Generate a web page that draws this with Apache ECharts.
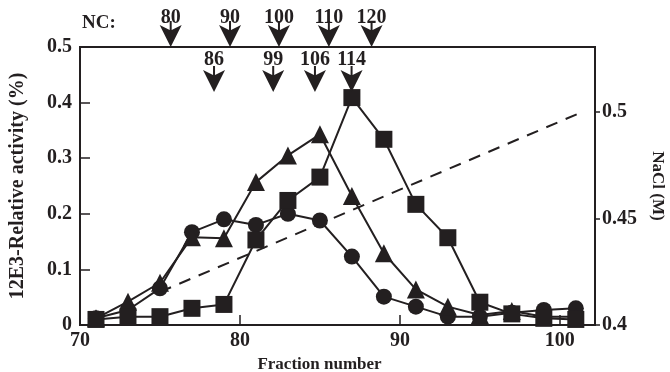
<!DOCTYPE html>
<html>
<head>
<meta charset="utf-8">
<script src="https://cdn.jsdelivr.net/npm/echarts@6/dist/echarts.min.js"></script>
<style>
html,body{margin:0;padding:0;background:#fff;}
#chart{width:670px;height:372px;}
</style>
</head>
<body>
<div id="chart"></div>
<script>
// ---- data ----
var fractions = [71, 73, 75, 77, 79, 81, 83, 85, 87, 89, 91, 93, 95, 97, 99, 101];
var circleVals = [0.012, 0.027, 0.066, 0.167, 0.190, 0.180, 0.200, 0.188, 0.123, 0.051, 0.033, 0.015, 0.015, 0.022, 0.027, 0.030];
var triangleVals = [0.012, 0.042, 0.076, 0.158, 0.156, 0.257, 0.305, 0.343, 0.232, 0.129, 0.064, 0.033, 0.018, 0.025, 0.015, 0.015];
var squareVals = [0.010, 0.015, 0.015, 0.030, 0.037, 0.153, 0.224, 0.266, 0.409, 0.334, 0.217, 0.157, 0.041, 0.020, 0.012, 0.010];
var naclFractions = [75, 101.4];
var naclVals = [0.4155, 0.5];
var ncTopLabels = ['80', '90', '100', '110', '120'];
var ncTopFractions = [75.67, 79.38, 82.44, 85.56, 88.23];
var ncTopLevel = 0.5;
var ncLowLabels = ['86', '99', '106', '114'];
var ncLowFractions = [78.38, 82.08, 84.69, 86.98];
var ncLowLevel = 0.419;
var xTicks = [70, 80, 90, 100];
var yLeftTicks = [0, 0.1, 0.2, 0.3, 0.4, 0.5];
var yRightTicks = [0.4, 0.45, 0.5];

var INK = '#231f20';
var FONT = 'Liberation Serif';

function pairs(xs, ys) { return xs.map(function (x, i) { return [x, ys[i]]; }); }

var arrowPath = 'path://M10,0 L12,0 L12,9 L22,4 L11,26 L0,4 L10,9 Z';

function arrowSeries(xs, labels, level, dist) {
  return {
    type: 'scatter',
    yAxisIndex: 0,
    clip: false,
    silent: true,
    z: 5,
    symbol: arrowPath,
    symbolSize: [22, 26],
    symbolOffset: [0, '-50%'],
    itemStyle: { color: INK, opacity: 1 },
    label: {
      show: true,
      position: 'top',
      distance: dist,
      color: INK,
      fontFamily: FONT,
      fontWeight: 'bold',
      fontSize: 20,
      formatter: function (p) { return labels[p.dataIndex]; }
    },
    data: xs.map(function (x) { return [x, level]; })
  };
}

function lineSeries(vals, symbol, size) {
  return {
    type: 'line',
    yAxisIndex: 0,
    data: pairs(fractions, vals),
    symbol: symbol,
    symbolSize: size,
    showAllSymbol: true,
    lineStyle: { color: INK, width: 2 },
    itemStyle: { color: INK, borderWidth: 0, opacity: 1 },
    z: 3
  };
}

var chart = echarts.init(document.getElementById('chart'), null, { renderer: 'canvas' });
chart.setOption({
  animation: false,
  backgroundColor: '#fff',
  textStyle: { fontFamily: FONT, fontWeight: 'bold', color: INK },
  grid: { left: 80, right: 75, top: 47, bottom: 47, containLabel: false, outerBoundsMode: 'none',
    show: true, borderColor: INK, borderWidth: 2, backgroundColor: 'transparent' },
  xAxis: {
    type: 'value', min: xTicks[0], max: 102.2, interval: 10,
    name: 'Fraction number', nameLocation: 'middle', nameGap: 28,
    nameTextStyle: { fontFamily: FONT, fontWeight: 'bold', fontSize: 17, color: INK, padding: [0, 36, 0, 0] },
    axisLine: { lineStyle: { color: INK, width: 2 } },
    axisTick: { inside: true, length: 10, lineStyle: { color: INK, width: 1.5 } },
    axisLabel: { showMaxLabel: false, margin: 6, fontFamily: FONT, fontWeight: 'bold', fontSize: 20, color: INK },
    splitLine: { show: false }
  },
  yAxis: [{
    type: 'value', min: yLeftTicks[0], max: yLeftTicks[yLeftTicks.length - 1], interval: 0.1,
    name: '12E3-Relative activity (%)', nameLocation: 'middle', nameGap: 52, nameRotate: 90,
    nameTextStyle: { fontFamily: FONT, fontWeight: 'bold', fontSize: 20, color: INK },
    axisLine: { lineStyle: { color: INK, width: 2 } },
    axisTick: { inside: true, length: 10, lineStyle: { color: INK, width: 1.5 } },
    axisLabel: { margin: 8, fontFamily: FONT, fontWeight: 'bold', fontSize: 20, color: INK,
      formatter: function (v) { return v === 0 ? '0' : String(Math.round(v * 10) / 10); } },
    splitLine: { show: false }
  }, {
    type: 'value', position: 'right', min: yRightTicks[0], max: 0.5305, interval: 0.05,
    name: 'NaCl (M)', nameLocation: 'middle', nameGap: 54, nameRotate: -90,
    nameTextStyle: { fontFamily: FONT, fontWeight: 'bold', fontSize: 17, color: INK },
    axisLine: { show: true, lineStyle: { color: INK, width: 2 } },
    axisTick: { inside: false, length: 5, lineStyle: { color: INK, width: 1.5 } },
    axisLabel: { showMaxLabel: false, margin: 7, fontFamily: FONT, fontWeight: 'bold', fontSize: 20, color: INK,
      formatter: function (v) { return String(Math.round(v * 100) / 100); } },
    splitLine: { show: false }
  }],
  graphic: [{
    type: 'text', left: 82, top: 14,
    style: { text: 'NC:', fontFamily: FONT, fontWeight: 'bold', fontSize: 19, fill: INK }
  }],
  series: [
    {
      type: 'line', yAxisIndex: 1, data: pairs(naclFractions, naclVals),
      symbol: 'none', lineStyle: { color: INK, width: 2, type: [12, 9] }, z: 2
    },
    lineSeries(circleVals, 'circle', 16),
    lineSeries(triangleVals, 'triangle', 18),
    lineSeries(squareVals, 'rect', 17),
    arrowSeries(ncTopFractions, ncTopLabels, ncTopLevel, -7),
    arrowSeries(ncLowFractions, ncLowLabels, ncLowLevel, -4)
  ]
});
</script>
</body>
</html>
